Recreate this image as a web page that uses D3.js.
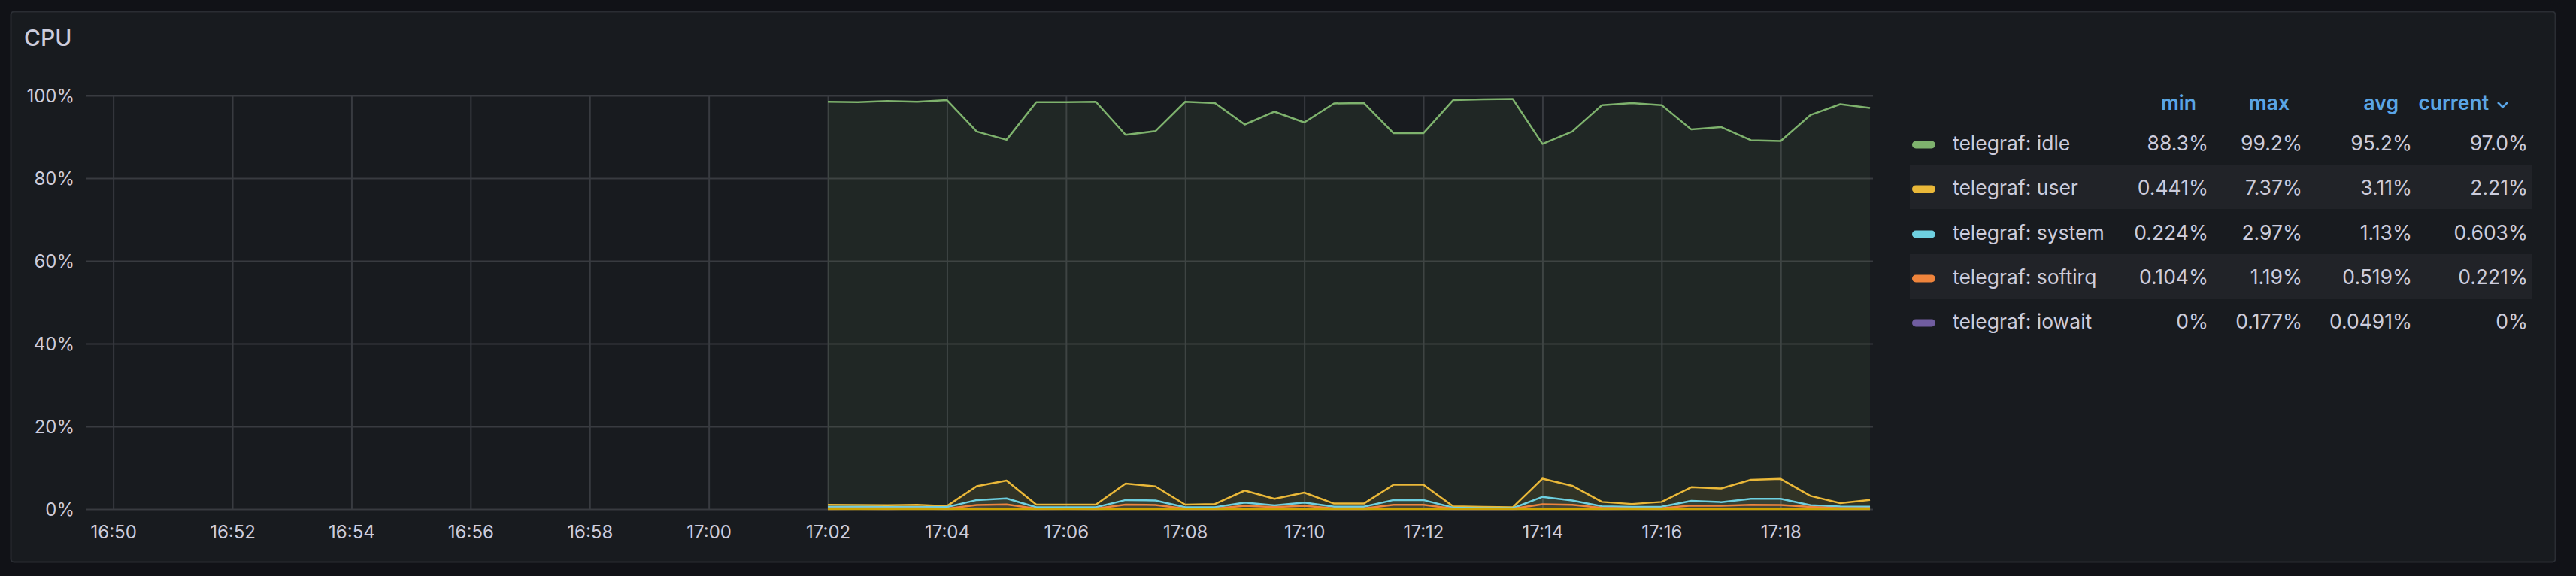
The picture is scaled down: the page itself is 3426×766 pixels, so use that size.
<!DOCTYPE html>
<html>
<head>
<meta charset="utf-8">
<script src="https://cdn.jsdelivr.net/npm/d3@7"></script>
<style>
  html, body { margin: 0; padding: 0; background: #111217; }
  svg { display: block; font-family: Inter, "Noto Sans", sans-serif; }
</style>
</head>
<body>
<div id="chart"></div>
<script>
var svgWidth = 3426;
var svgHeight = 766;

// samples every 30s from 17:02:00 to 17:19:30
var startTime = new Date(2023, 0, 1, 17, 2, 0);
var stepSeconds = 30;

var idle = [98.5, 98.4, 98.7, 98.5, 98.9, 91.3, 89.3, 98.4, 98.4, 98.5, 90.5, 91.4,
            98.5, 98.2, 93.0, 96.1, 93.5, 98.1, 98.2, 90.9, 90.9, 98.9, 99.1, 99.2,
            88.3, 91.3, 97.7, 98.2, 97.7, 91.8, 92.4, 89.2, 89.0, 95.3, 97.9, 97.0];
var user = [1.05, 1.0, 0.95, 1.05, 0.75, 5.55, 6.9, 1.1, 1.1, 1.1, 6.2, 5.5,
            1.1, 1.25, 4.5, 2.5, 4.0, 1.35, 1.35, 5.9, 5.9, 0.7, 0.55, 0.441,
            7.37, 5.65, 1.75, 1.25, 1.75, 5.3, 5.0, 7.1, 7.3, 3.2, 1.45, 2.21];
var system = [0.55, 0.55, 0.5, 0.5, 0.5, 2.2, 2.6, 0.45, 0.45, 0.45, 2.2, 2.1,
              0.45, 0.45, 1.6, 0.9, 1.6, 0.6, 0.6, 2.2, 2.2, 0.35, 0.25, 0.224,
              2.97, 2.1, 0.7, 0.55, 0.6, 2.0, 1.7, 2.5, 2.5, 0.95, 0.65, 0.603];
var softirq = [0.2, 0.2, 0.18, 0.2, 0.15, 1.0, 1.15, 0.15, 0.15, 0.15, 1.1, 1.0,
               0.15, 0.15, 0.8, 0.5, 0.8, 0.2, 0.2, 1.05, 1.05, 0.12, 0.104, 0.11,
               1.19, 1.05, 0.3, 0.2, 0.25, 0.85, 0.8, 1.05, 1.0, 0.55, 0.25, 0.221];
var iowait = [0, 0.05, 0, 0.1, 0, 0.177, 0.1, 0, 0.05, 0, 0.15, 0.05,
              0, 0, 0.1, 0.05, 0.1, 0, 0, 0.12, 0.1, 0, 0, 0,
              0.15, 0.1, 0, 0.05, 0, 0.1, 0.05, 0.1, 0.12, 0.05, 0, 0];
// all-zero series, hidden from the legend but drawn on the baseline
var nice = [0, 0, 0, 0, 0, 0, 0, 0, 0, 0, 0, 0,
            0, 0, 0, 0, 0, 0, 0, 0, 0, 0, 0, 0,
            0, 0, 0, 0, 0, 0, 0, 0, 0, 0, 0, 0];

var seriesNames = ['telegraf: idle', 'telegraf: user', 'telegraf: system', 'telegraf: softirq', 'telegraf: iowait'];
var colors = ['#7eb26d', '#eab839', '#6ed0e0', '#ef843c', '#705da0'];

var statHeaders = ['min', 'max', 'avg', 'current'];
var statMin = ['88.3%', '0.441%', '0.224%', '0.104%', '0%'];
var statMax = ['99.2%', '7.37%', '2.97%', '1.19%', '0.177%'];
var statAvg = ['95.2%', '3.11%', '1.13%', '0.519%', '0.0491%'];
var statCurrent = ['97.0%', '2.21%', '0.603%', '0.221%', '0%'];

var yTicks = [0, 20, 40, 60, 80, 100];

var plotLeft = 115, plotRight = 2491, plotTop = 127, plotBottom = 677;

var times = idle.map(function(d, i) {
    return new Date(startTime.getTime() + i * stepSeconds * 1000);
});

var x = d3.scaleTime()
    .domain([new Date(2023, 0, 1, 16, 49, 33), new Date(2023, 0, 1, 17, 19, 33)])
    .range([plotLeft, plotRight]);

var y = d3.scaleLinear()
    .domain([0, 100])
    .range([plotBottom, plotTop]);

var svg = d3.select('#chart').append('svg')
    .attr('width', svgWidth)
    .attr('height', svgHeight);

// panel
svg.append('rect')
    .attr('x', 14.5).attr('y', 15.5)
    .attr('width', 3384).attr('height', 732)
    .attr('rx', 4)
    .attr('fill', '#181b1f')
    .attr('stroke', '#2a2d33')
    .attr('stroke-width', 2);

svg.append('text')
    .attr('x', 32).attr('y', 61)
    .attr('fill', '#ccccdc')
    .attr('font-size', 30)
    .attr('font-weight', 500)
    .text('CPU');

// grid + axes
var yAxis = svg.append('g')
    .attr('transform', `translate(${plotLeft}, 0)`)
    .call(d3.axisLeft(y).tickValues(yTicks).tickSize(-(plotRight - plotLeft)).tickFormat(d => d + '%'));

var xAxis = svg.append('g')
    .attr('transform', `translate(0, ${plotBottom})`)
    .call(d3.axisBottom(x).ticks(d3.timeMinute.every(2)).tickSize(-(plotBottom - plotTop)).tickFormat(d3.timeFormat('%H:%M')));

[yAxis, xAxis].forEach(function(ax) {
    ax.select('.domain').remove();
    ax.selectAll('line').attr('stroke', '#383b40').attr('stroke-width', 2);
    ax.selectAll('text').attr('fill', '#ccccdc').attr('font-size', 24).attr('font-family', 'Inter, sans-serif');
});
yAxis.selectAll('text').attr('x', -16).attr('dy', '0.35em');
xAxis.selectAll('text').attr('y', 31).attr('dy', '0.35em');

// series
var allSeries = [idle, user, system, softirq, iowait];
var drawSeries = allSeries.map(function(vals, i) {
    return { name: seriesNames[i], color: colors[i], values: vals };
});
drawSeries.push({ name: 'telegraf: nice', color: '#cca300', values: nice });

var area = d3.area()
    .x((d, i) => x(times[i]))
    .y0(y(0))
    .y1(d => y(d));

var line = d3.line()
    .x((d, i) => x(times[i]))
    .y(d => y(d));

var plot = svg.append('g');

drawSeries.forEach(function(s) {
    plot.append('path')
        .datum(s.values)
        .attr('d', area)
        .attr('fill', s.color)
        .attr('fill-opacity', 0.085);
});

drawSeries.forEach(function(s) {
    plot.append('path')
        .datum(s.values)
        .attr('d', line)
        .attr('fill', 'none')
        .attr('stroke', s.color)
        .attr('stroke-width', 2.5)
        .attr('stroke-linejoin', 'round');
});

// legend table
var legend = svg.append('g');
var rowY = [190, 249, 309, 368, 427];
var colRight = [2937, 3062, 3208, 3362];
var headRight = [2921, 3045, 3190, 3310];

legend.selectAll('rect.band')
    .data(rowY.filter((d, i) => i % 2 === 1))
    .enter().append('rect')
    .attr('class', 'band')
    .attr('x', 2540).attr('y', d => d - 30)
    .attr('width', 828).attr('height', 59)
    .attr('fill', '#212328');

legend.selectAll('text.head')
    .data(statHeaders)
    .enter().append('text')
    .attr('class', 'head')
    .attr('x', (d, i) => headRight[i])
    .attr('y', 146)
    .attr('text-anchor', 'end')
    .attr('fill', '#5aa5e6')
    .attr('font-size', 26.5)
    .attr('font-weight', 600)
    .text(d => d);

legend.append('path')
    .attr('d', 'M3322,136 L3328.5,142.5 L3335,136')
    .attr('fill', 'none')
    .attr('stroke', '#5aa5e6')
    .attr('stroke-width', 2.5);

var rows = legend.selectAll('g.row')
    .data(seriesNames)
    .enter().append('g')
    .attr('class', 'row')
    .attr('transform', (d, i) => `translate(0, ${rowY[i]})`);

rows.append('rect')
    .attr('x', 2543).attr('y', -2.5)
    .attr('width', 31).attr('height', 10)
    .attr('rx', 5)
    .attr('fill', (d, i) => colors[i]);

rows.append('text')
    .attr('x', 2597).attr('dy', '0.36em')
    .attr('fill', '#ccccdc')
    .attr('font-size', 26.5)
    .text(d => d);

var statCols = [statMin, statMax, statAvg, statCurrent];
statCols.forEach(function(col, c) {
    rows.append('text')
        .attr('x', colRight[c]).attr('dy', '0.36em')
        .attr('text-anchor', 'end')
        .attr('fill', '#ccccdc')
        .attr('font-size', 26.5)
        .text((d, i) => col[i]);
});
</script>
</body>
</html>
